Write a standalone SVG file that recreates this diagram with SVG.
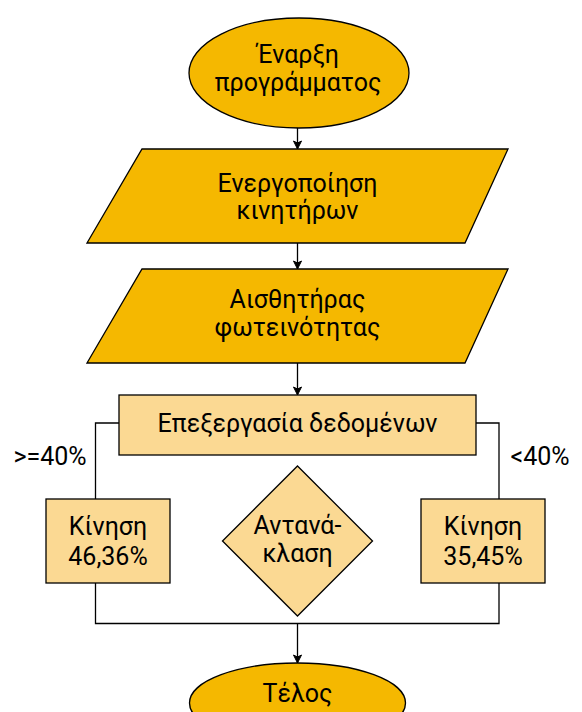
<svg xmlns="http://www.w3.org/2000/svg" width="582" height="712" viewBox="0 0 582 712">
<style>
  .dark { fill: #F5B800; stroke: #000; stroke-width: 1.3; }
  .light { fill: #FBD993; stroke: #000; stroke-width: 1.3; }
  .t { font-family: Roboto, "Noto Sans", "Liberation Sans", sans-serif; font-size: 25px; fill: #000; text-anchor: middle; }
  .edge { fill: none; stroke: #000; stroke-width: 1.3; }
</style>
<defs>
  <marker id="arr" markerUnits="userSpaceOnUse" markerWidth="10" markerHeight="10" viewBox="0 0 10 10" refX="9" refY="5" orient="auto">
    <path d="M1,1 L9,5 L1,9 L3,5 Z" fill="#000" stroke="#000" stroke-width="1"/>
  </marker>
</defs>
<rect width="582" height="712" fill="#fff"/>
<g id="start">
  <ellipse class="dark" cx="299" cy="73" rx="110" ry="55"/>
  <text class="t" x="298" y="63">Έναρξη</text>
  <text class="t" x="298" y="91">προγράμματος</text>
</g>
<g id="motors">
  <polygon class="dark" points="142,149 508,149 465,243 87,243"/>
  <text class="t" x="297.5" y="192">Ενεργοποίηση</text>
  <text class="t" x="297.5" y="219">κινητήρων</text>
</g>
<g id="sensor">
  <polygon class="dark" points="142,269 508,269 465,363 87,363"/>
  <text class="t" x="297.5" y="308">Αισθητήρας</text>
  <text class="t" x="297.5" y="336">φωτεινότητας</text>
</g>
<g id="process">
  <rect class="light" x="119" y="395" width="357" height="60"/>
  <text class="t" x="297.5" y="432">Επεξεργασία δεδομένων</text>
</g>
<g id="moveLeft">
  <rect class="light" x="46" y="499" width="124" height="84"/>
  <text class="t" x="108" y="535">Κίνηση</text>
  <text class="t" x="108" y="565">46,36%</text>
</g>
<g id="reflect">
  <polygon class="light" points="297.5,466 372.5,541 297.5,616 222.5,541"/>
  <text class="t" x="297.5" y="534">Αντανά-</text>
  <text class="t" x="297.5" y="562">κλαση</text>
</g>
<g id="moveRight">
  <rect class="light" x="421" y="499" width="124" height="84"/>
  <text class="t" x="483" y="535">Κίνηση</text>
  <text class="t" x="483" y="565">35,45%</text>
</g>
<g id="end">
  <ellipse class="dark" cx="297.5" cy="703" rx="108" ry="40"/>
  <text class="t" x="297.5" y="702">Τέλος</text>
</g>
<g id="connectors">
  <path class="edge" d="M297.5,128 V149" marker-end="url(#arr)"/>
  <path class="edge" d="M297.5,243 V269" marker-end="url(#arr)"/>
  <path class="edge" d="M297.5,363 V395" marker-end="url(#arr)"/>
  <path class="edge" d="M119,423 H95.5 V499"/>
  <path class="edge" d="M476,423 H499 V499"/>
  <path class="edge" d="M95.5,583 V623.5 H499 V583"/>
  <path class="edge" d="M297.5,623.5 V663" marker-end="url(#arr)"/>
  <text class="t" x="50" y="465">&gt;=40%</text>
  <text class="t" x="540" y="465">&lt;40%</text>
</g>
</svg>
